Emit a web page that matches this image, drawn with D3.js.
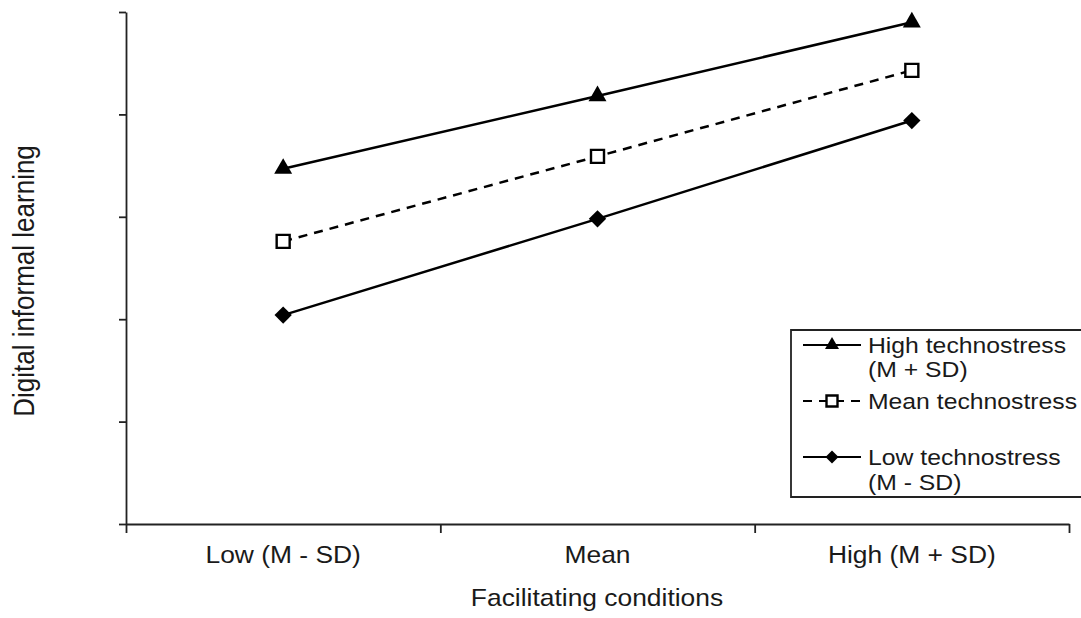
<!DOCTYPE html>
<html lang="en">
<head>
<meta charset="UTF-8">
<title>Digital informal learning by facilitating conditions</title>
<script src="https://d3js.org/d3.v7.min.js"></script>
<style>
  body { margin: 0; background: #fff; overflow: hidden; }
  svg { display: block; font-family: "Liberation Sans", Arial, sans-serif; }
  .axis path, .axis line { stroke: #222; stroke-width: 1.8; }
  .lbl { fill: #1a1a1a; }
</style>
</head>
<body>
<svg id="chart" width="1081" height="618"></svg>
<script>
// --- data (y in arbitrary units 0..5) ---
const categories = ["Low (M - SD)", "Mean", "High (M + SD)"];
const highStress = [3.47, 4.18, 4.90];
const meanStress = [2.76, 3.59, 4.43];
const lowStress  = [2.04, 2.98, 3.94];
const yTicks = [0, 1, 2, 3, 4, 5];

const seriesNames = ["High technostress|(M + SD)", "Mean technostress", "Low technostress|(M - SD)"];

const svg = d3.select("#chart");
const plotLeft = 126, plotRight = 1069, plotTop = 12, plotBottom = 524;
const stretch = 1.1; // the source picture is a bit wider than tall

const x = d3.scaleBand().domain(categories).range([plotLeft, plotRight]);
const xEdge = d3.scaleLinear().domain([0, categories.length]).range([plotLeft, plotRight]);
const y = d3.scaleLinear().domain([0, 5]).range([plotBottom, plotTop]);

// y axis, no visible tick labels
svg.append("g").attr("class", "axis")
  .attr("transform", `translate(${plotLeft},0)`)
  .call(d3.axisLeft(y).tickValues(yTicks).tickSize(7).tickSizeOuter(0).tickFormat(""));

// x axis: ticks at category edges
svg.append("g").attr("class", "axis")
  .attr("transform", `translate(0,${plotBottom})`)
  .call(d3.axisBottom(xEdge).tickValues(d3.range(categories.length + 1)).tickSize(9).tickSizeOuter(0).tickFormat(""));

// x category labels at band centres
const xl = svg.append("g")
  .attr("transform", `translate(0,${plotBottom})`)
  .call(d3.axisBottom(x).tickSize(0));
xl.select(".domain").remove();
xl.selectAll("text")
  .attr("y", 39).attr("dy", null)
  .attr("transform", `scale(${stretch},1)`)
  .attr("fill", "#1a1a1a")
  .style("font-family", '"Liberation Sans", Arial, sans-serif')
  .style("font-size", "24px");

// axis titles
svg.append("text").attr("class", "lbl")
  .attr("transform", `translate(597,606) scale(${stretch},1)`)
  .attr("text-anchor", "middle").style("font-size", "24px")
  .text("Facilitating conditions");

svg.append("text").attr("class", "lbl")
  .attr("transform", `translate(34,281) scale(${stretch},1) rotate(-90)`)
  .attr("text-anchor", "middle").style("font-size", "26px")
  .text("Digital informal learning");

// --- series ---
const series = [
  { values: highStress, dash: null, symbol: "tri" },
  { values: meanStress, dash: "9,7", symbol: "sq" },
  { values: lowStress,  dash: null, symbol: "dia" }
];

const line = d3.line()
  .x((d, i) => x(categories[i]) + x.bandwidth() / 2)
  .y(d => y(d));

function marker(sel, kind, big) {
  if (kind === "tri") {
    sel.append("path")
      .attr("d", d3.symbol(d3.symbolTriangle, big ? 140 : 85)())
      .attr("fill", "#000");
  } else if (kind === "sq") {
    sel.append("path")
      .attr("d", d3.symbol(d3.symbolSquare, big ? 169 : 121)())
      .attr("fill", "#fff").attr("stroke", "#000").attr("stroke-width", 2.4);
  } else {
    sel.append("path")
      .attr("d", d3.symbol(d3.symbolSquare, big ? 150 : 85)())
      .attr("transform", "rotate(45)")
      .attr("fill", "#000");
  }
}

series.forEach(s => {
  svg.append("path")
    .datum(s.values)
    .attr("d", line)
    .attr("fill", "none")
    .attr("stroke", "#000")
    .attr("stroke-width", 2.5)
    .attr("stroke-dasharray", s.dash);

  s.values.forEach((v, i) => {
    const g = svg.append("g")
      .attr("transform", `translate(${x(categories[i]) + x.bandwidth() / 2},${y(v)})`);
    marker(g, s.symbol, true);
  });
});

// --- legend ---
const legend = svg.append("g");
legend.append("path")
  .attr("d", "M1090,330H791V497H1090")
  .attr("fill", "#fff").attr("stroke", "#222").attr("stroke-width", 1.8);

const rowY = [345, 401, 457];
const textY = [[353, 377], [409], [465, 490]];

series.forEach((s, k) => {
  legend.append("line")
    .attr("x1", 803).attr("x2", 861)
    .attr("y1", rowY[k]).attr("y2", rowY[k])
    .attr("stroke", "#000").attr("stroke-width", 2.2)
    .attr("stroke-dasharray", s.dash);
  marker(legend.append("g").attr("transform", `translate(832,${rowY[k]})`), s.symbol, false);

  seriesNames[k].split("|").forEach((t, j) => {
    legend.append("text").attr("class", "lbl")
      .attr("transform", `translate(868,${textY[k][j]}) scale(${stretch},1)`)
      .style("font-size", "22.5px")
      .text(t);
  });
});
</script>
</body>
</html>
